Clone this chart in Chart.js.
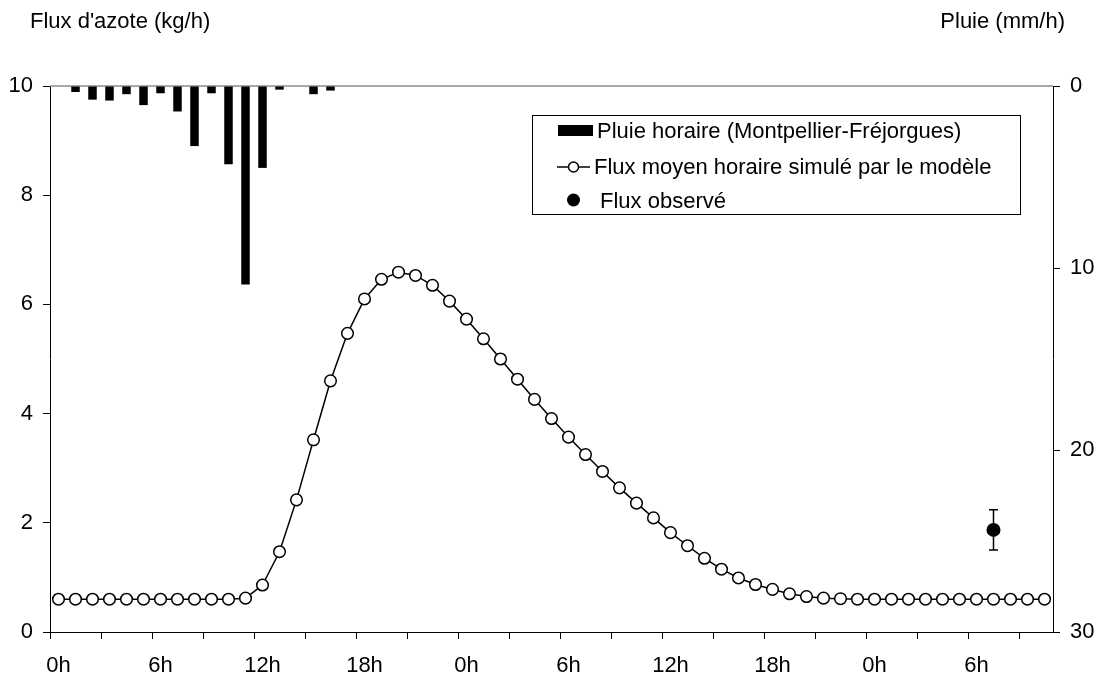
<!DOCTYPE html>
<html lang="fr">
<head>
<meta charset="utf-8">
<title>Flux d'azote et pluie horaire</title>
<script src="https://cdn.jsdelivr.net/npm/chart.js@4.4.1/dist/chart.umd.min.js"></script>
<style>
  html, body { margin: 0; padding: 0; background: #fff; }
  #cadre { position: relative; width: 1096px; height: 677px; }
</style>
</head>
<body>
<div id="cadre"><canvas id="graphique"></canvas></div>
<script>
"use strict";

// heures depuis le debut de l'episode (une categorie par heure)
const heures = [
    0, 1, 2, 3, 4, 5, 6, 7, 8, 9, 10, 11, 12, 13, 14, 15, 16, 17, 18, 19,
    20, 21, 22, 23, 24, 25, 26, 27, 28, 29, 30, 31, 32, 33, 34, 35, 36, 37, 38, 39,
    40, 41, 42, 43, 44, 45, 46, 47, 48, 49, 50, 51, 52, 53, 54, 55, 56, 57, 58,
];
const etiquettesHeures = ["0h", "6h", "12h", "18h", "0h", "6h", "12h", "18h", "0h", "6h"];

// pluie horaire (mm/h)
const pluie = [
    0, 0.33, 0.75, 0.8, 0.45, 1.05, 0.4, 1.4, 3.3, 0.4, 4.3, 10.9, 4.5, 0.2, 0, 0.45, 0.25, 0, 0, 0,
    0, 0, 0, 0, 0, 0, 0, 0, 0, 0, 0, 0, 0, 0, 0, 0, 0, 0, 0, 0,
    0, 0, 0, 0, 0, 0, 0, 0, 0, 0, 0, 0, 0, 0, 0, 0, 0, 0, 0,
];

// flux moyen horaire simule (kg/h)
const fluxSimule = [
    0.6, 0.6, 0.6, 0.6, 0.6, 0.6, 0.6, 0.6, 0.6, 0.6, 0.6, 0.62, 0.86, 1.47, 2.42, 3.52, 4.6, 5.47, 6.1, 6.46,
    6.59, 6.53, 6.35, 6.06, 5.73, 5.37, 5.0, 4.63, 4.26, 3.91, 3.57, 3.25, 2.94, 2.64, 2.36, 2.09, 1.82, 1.58, 1.35, 1.15,
    0.99, 0.87, 0.78, 0.7, 0.65, 0.62, 0.61, 0.6, 0.6, 0.6, 0.6, 0.6, 0.6, 0.6, 0.6, 0.6, 0.6, 0.6, 0.6,
];

// flux observe (kg/h) et son intervalle
const obsHeures = [55];
const obsFlux = [1.87];
const obsBas = [1.5];
const obsHaut = [2.24];

const fluxObserve = heures.map((h) => {
    const k = obsHeures.indexOf(h);
    return k >= 0 ? obsFlux[k] : null;
});

Chart.defaults.font.family = "'Liberation Sans', Arial, sans-serif";
Chart.defaults.font.size = 22;
Chart.defaults.color = "#000";

const police = "22px 'Liberation Sans', Arial, sans-serif";

// barres d'erreur du flux observe
const barresErreur = {
    id: "barresErreur",
    afterDatasetsDraw(chart) {
        const ctx = chart.ctx;
        const x = chart.scales.x;
        const y = chart.scales.y;
        ctx.save();
        ctx.strokeStyle = "#000";
        ctx.lineWidth = 1.5;
        obsHeures.forEach((h, i) => {
            const px = x.getPixelForValue(heures.indexOf(h));
            const haut = y.getPixelForValue(obsHaut[i]);
            const bas = y.getPixelForValue(obsBas[i]);
            ctx.beginPath();
            ctx.moveTo(px, haut);
            ctx.lineTo(px, bas);
            ctx.moveTo(px - 4.5, haut);
            ctx.lineTo(px + 4.5, haut);
            ctx.moveTo(px - 4.5, bas);
            ctx.lineTo(px + 4.5, bas);
            ctx.stroke();
        });
        ctx.restore();
    },
};

// titres d'axes horizontaux, ligne du haut et legende encadree
const decor = {
    id: "decor",
    beforeDatasetsDraw(chart) {
        const ctx = chart.ctx;
        const area = chart.chartArea;
        ctx.save();
        ctx.strokeStyle = "#8c8c8c";
        ctx.lineWidth = 1.5;
        ctx.beginPath();
        ctx.moveTo(area.left, area.top);
        ctx.lineTo(area.right, area.top);
        ctx.stroke();
        ctx.restore();
    },
    afterDraw(chart) {
        const ctx = chart.ctx;
        const ds = chart.data.datasets;
        ctx.save();
        ctx.font = police;
        ctx.fillStyle = "#000";
        ctx.textBaseline = "middle";
        ctx.textAlign = "left";
        ctx.fillText("Flux d'azote (kg/h)", 30, 22);
        ctx.textAlign = "right";
        ctx.fillText("Pluie (mm/h)", 1065, 22);

        // cadre de legende
        ctx.fillStyle = "#fff";
        ctx.fillRect(532, 115, 488, 99);
        ctx.strokeStyle = "#000";
        ctx.lineWidth = 1;
        ctx.strokeRect(532.5, 115.5, 488, 99);

        // pluie
        ctx.fillStyle = "#000";
        ctx.fillRect(558, 125, 35, 11);
        // flux simule
        ctx.lineWidth = 1.5;
        ctx.beginPath();
        ctx.moveTo(557, 167);
        ctx.lineTo(590, 167);
        ctx.stroke();
        ctx.beginPath();
        ctx.arc(573.5, 167, 5, 0, Math.PI * 2);
        ctx.fillStyle = "#fff";
        ctx.fill();
        ctx.stroke();
        // flux observe
        ctx.beginPath();
        ctx.arc(573.5, 200, 6.5, 0, Math.PI * 2);
        ctx.fillStyle = "#000";
        ctx.fill();

        ctx.textAlign = "left";
        ctx.fillText(ds[0].label, 597, 132);
        ctx.fillText(ds[1].label, 594, 168);
        ctx.fillText(ds[2].label, 600, 202);
        ctx.restore();
    },
};

const ctxGraphique = document.getElementById("graphique");

new Chart(ctxGraphique, {
    data: {
        labels: heures,
        datasets: [
            {
                type: "bar",
                label: "Pluie horaire (Montpellier-Fréjorgues)",
                data: pluie,
                yAxisID: "y2",
                backgroundColor: "#000",
                borderWidth: 0,
                barPercentage: 0.5,
                categoryPercentage: 1,
                order: 3,
            },
            {
                type: "line",
                label: "Flux moyen horaire simulé par le modèle",
                data: fluxSimule,
                yAxisID: "y",
                borderColor: "#000",
                borderWidth: 1.5,
                pointRadius: 5.8,
                pointBackgroundColor: "#fff",
                pointBorderColor: "#000",
                pointBorderWidth: 1.5,
                tension: 0,
                order: 2,
            },
            {
                type: "line",
                label: "Flux observé",
                data: fluxObserve,
                yAxisID: "y",
                showLine: false,
                pointRadius: 7,
                pointBackgroundColor: "#000",
                pointBorderColor: "#000",
                pointBorderWidth: 0,
                order: 1,
            },
        ],
    },
    options: {
        responsive: true,
        maintainAspectRatio: false,
        animation: false,
        layout: {
            padding: { top: 86, left: 0, right: 0, bottom: 0 },
        },
        plugins: {
            legend: { display: false },
            tooltip: { enabled: false },
        },
        scales: {
            x: {
                type: "category",
                offset: true,
                afterFit: (s) => {
                    s.height = 45;
                },
                border: { display: true, color: "#000", width: 1 },
                grid: {
                    offset: true,
                    drawOnChartArea: false,
                    drawTicks: true,
                    tickLength: 7,
                    color: (c) => (c.index % 3 === 0 ? "#000" : "rgba(0,0,0,0)"),
                },
                ticks: {
                    autoSkip: false,
                    maxRotation: 0,
                    padding: 14,
                    callback: function (val, index) {
                        return index % 6 === 0 ? etiquettesHeures[index / 6] : "";
                    },
                },
            },
            y: {
                position: "left",
                min: 0,
                max: 10,
                afterFit: (s) => {
                    s.width = 50;
                },
                border: { display: true, color: "#000", width: 1 },
                grid: {
                    drawOnChartArea: false,
                    drawTicks: true,
                    tickLength: 7,
                    color: "#000",
                },
                ticks: {
                    stepSize: 2,
                    padding: 10,
                },
            },
            y2: {
                position: "right",
                reverse: true,
                min: 0,
                max: 30,
                afterFit: (s) => {
                    s.width = 43;
                },
                border: { display: true, color: "#000", width: 1 },
                grid: {
                    drawOnChartArea: false,
                    drawTicks: true,
                    tickLength: 7,
                    color: "#000",
                },
                ticks: {
                    stepSize: 10,
                    padding: 10,
                },
            },
        },
    },
    plugins: [barresErreur, decor],
});
</script>
</body>
</html>
